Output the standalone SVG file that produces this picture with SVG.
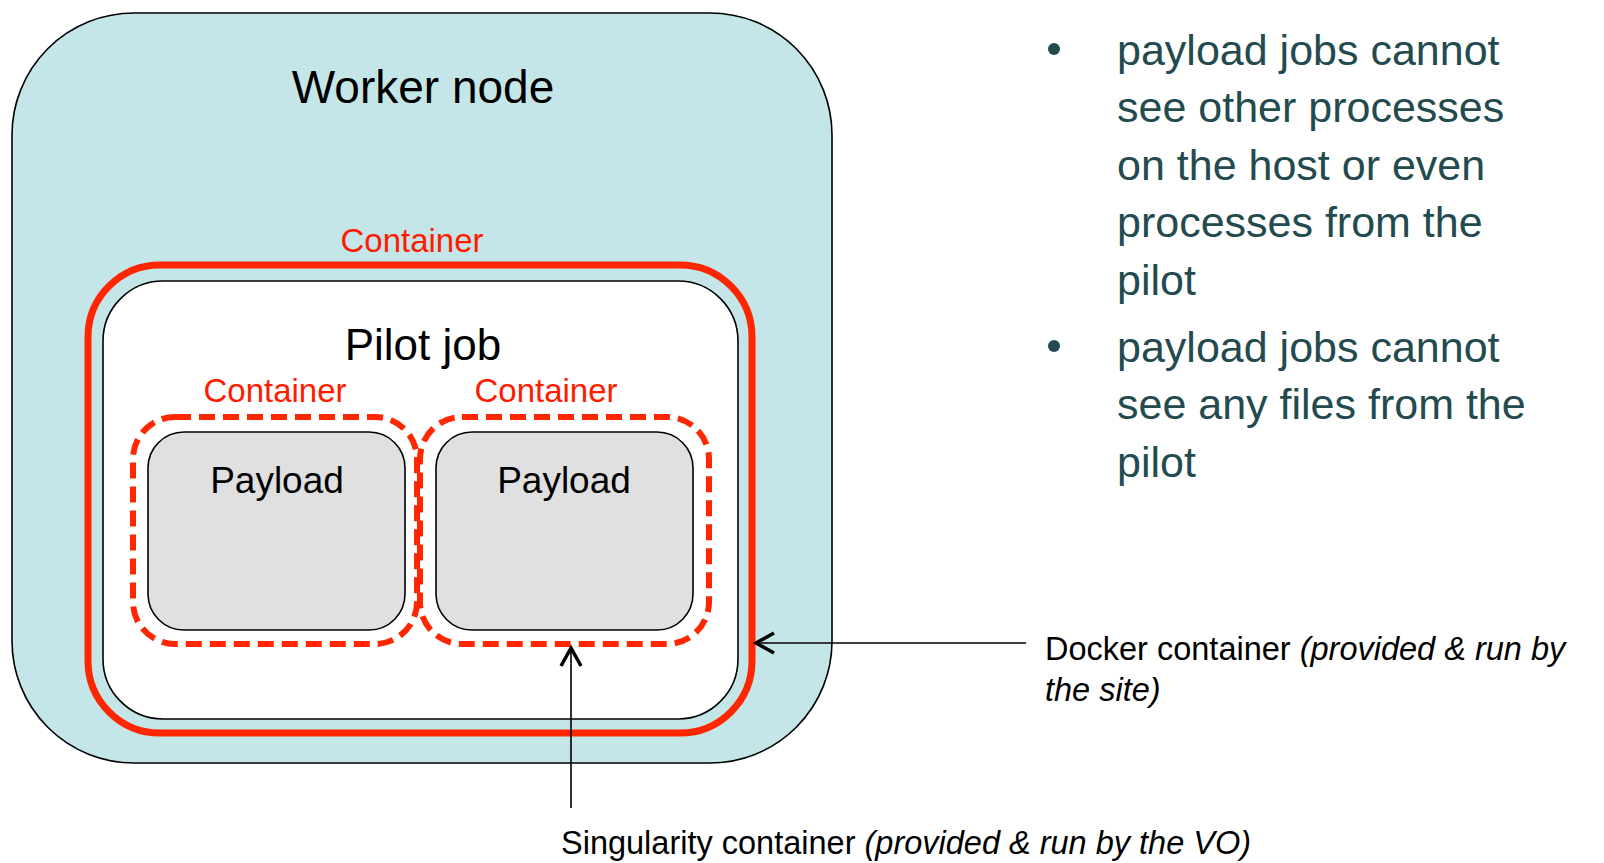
<svg xmlns="http://www.w3.org/2000/svg" width="1604" height="863" viewBox="0 0 1604 863">
<style>
text{font-family:"Liberation Sans",Arial,sans-serif}
.lbl{fill:#000}
.red{fill:#FF1A00;font-size:33px}
.bul{fill:#234B4F;font-size:43px}
.ann{font-size:32.5px;fill:#000}
.it{font-style:italic}
.conn{stroke:#000;stroke-width:1.6;fill:none}
</style>
<defs>
<marker id="ah" viewBox="0 0 24 24" refX="21" refY="12" markerWidth="24" markerHeight="24" markerUnits="userSpaceOnUse" orient="auto">
<path d="M3,2 L21,12 L3,22" fill="none" stroke="#000" stroke-width="3.5"/>
</marker>
</defs>
<rect width="1604" height="863" fill="#fff"/>
<g id="worker-node">
<rect x="12" y="13" width="820" height="750" rx="122" ry="122" fill="#C5E6E8" stroke="#000" stroke-width="1.6"/>
<text class="lbl" x="423" y="103" font-size="46" text-anchor="middle">Worker node</text>
</g>
<g id="docker-container">
<rect x="88" y="265" width="664" height="468" rx="72" ry="72" fill="none" stroke="#FF2600" stroke-width="7"/>
<text class="red" x="412" y="252" text-anchor="middle">Container</text>
</g>
<g id="pilot-job">
<rect x="103" y="281" width="635" height="438" rx="60" ry="60" fill="#fff" stroke="#000" stroke-width="1.6"/>
<text class="lbl" x="423" y="360" font-size="44" text-anchor="middle">Pilot job</text>
</g>
<g id="container-1">
<rect x="133" y="417" width="284" height="227" rx="42" ry="42" fill="none" stroke="#FF2600" stroke-width="6" stroke-dasharray="16 8"/>
<text class="red" x="275" y="402" text-anchor="middle">Container</text>
</g>
<g id="container-2">
<rect x="420" y="417" width="289" height="227" rx="42" ry="42" fill="none" stroke="#FF2600" stroke-width="6" stroke-dasharray="16 8"/>
<text class="red" x="546" y="402" text-anchor="middle">Container</text>
</g>
<g id="payload-1">
<rect x="148" y="432" width="257" height="198" rx="36" ry="36" fill="#E0E0E0" stroke="#000" stroke-width="1.6"/>
<text class="lbl" x="277" y="493" font-size="37" text-anchor="middle">Payload</text>
</g>
<g id="payload-2">
<rect x="436" y="432" width="257" height="198" rx="36" ry="36" fill="#E0E0E0" stroke="#000" stroke-width="1.6"/>
<text class="lbl" x="564" y="493" font-size="37" text-anchor="middle">Payload</text>
</g>
<g id="connectors">
<line class="conn" x1="1026" y1="643" x2="756" y2="643" marker-end="url(#ah)"/>
<line class="conn" x1="571" y1="808" x2="571" y2="648" marker-end="url(#ah)"/>
</g>
<g id="docker-label">
<text class="ann" x="1045" y="660">Docker container <tspan class="it">(provided &amp; run by</tspan></text>
<text class="ann it" x="1045" y="701">the site)</text>
</g>
<g id="singularity-label">
<text class="ann" x="561" y="854">Singularity container <tspan class="it">(provided &amp; run by the VO)</tspan></text>
</g>
<g id="bullets">
<circle cx="1054" cy="49" r="6" fill="#234B4F"/>
<circle cx="1054" cy="346" r="6" fill="#234B4F"/>
<text class="bul" x="1117" y="65">payload jobs cannot</text>
<text class="bul" x="1117" y="122">see other processes</text>
<text class="bul" x="1117" y="180">on the host or even</text>
<text class="bul" x="1117" y="237">processes from the</text>
<text class="bul" x="1117" y="295">pilot</text>
<text class="bul" x="1117" y="362">payload jobs cannot</text>
<text class="bul" x="1117" y="419">see any files from the</text>
<text class="bul" x="1117" y="477">pilot</text>
</g>
</svg>
